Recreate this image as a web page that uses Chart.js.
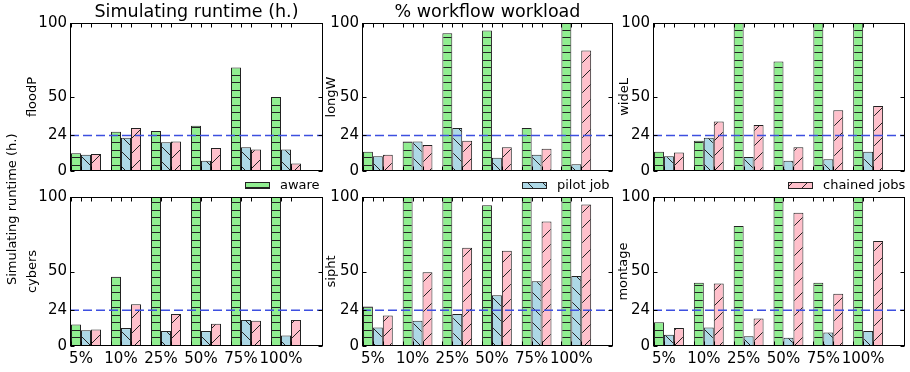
<!DOCTYPE html>
<html>
<head>
<meta charset="utf-8">
<script src="https://cdn.jsdelivr.net/npm/chart.js@4.4.1/dist/chart.umd.min.js"></script>
<style>
  html, body { margin: 0; padding: 0; background: #fff; }
  #wrap { position: relative; width: 910px; height: 372px; }
  #wrap canvas { position: absolute; left: 0; top: 0; }
</style>
</head>
<body>
<div id="wrap">
  <canvas id="floodP" width="910" height="372"></canvas>
  <canvas id="longW" width="910" height="372"></canvas>
  <canvas id="wideL" width="910" height="372"></canvas>
  <canvas id="cybers" width="910" height="372"></canvas>
  <canvas id="sipht" width="910" height="372"></canvas>
  <canvas id="montage" width="910" height="372"></canvas>
</div>
<script>
// categories / series / ticks
const workloads = ['5%', '10%', '25%', '50%', '75%', '100%'];
const seriesNames = ['aware', 'pilot job', 'chained jobs'];
const yTicks = [0, 24, 50, 100];
const deadline = 24;

// runtimes (h.); bars above 100 are cut by the axis
const floodPAware = [12, 26.5, 27, 30.5, 70, 50];
const floodPPilot = [11, 22.5, 19.5, 7, 16, 14.5];
const floodPChained = [11.5, 29, 20, 15.5, 14.5, 5];

const longWAware = [13, 20, 93, 95, 29, 125];
const longWPilot = [10, 20, 29, 9, 11, 4.5];
const longWChained = [11, 17.5, 20.5, 16, 15, 81.5];

const wideLAware = [13, 20.5, 125, 74, 125, 125];
const wideLPilot = [10, 22.5, 9.5, 7, 8, 13];
const wideLChained = [12.5, 33.5, 31, 16, 41, 44];

const cybersAware = [14.5, 46.5, 125, 125, 125, 125];
const cybersPilot = [10.5, 12, 10, 10, 17.5, 7];
const cybersChained = [11, 28, 21.5, 15, 17, 17.5];

const siphtAware = [26.5, 125, 125, 94.5, 125, 125];
const siphtPilot = [12.5, 17, 21.5, 34, 43.5, 47];
const siphtChained = [20.5, 49.5, 66, 64, 83.5, 95];

const montageAware = [16, 42.5, 80.5, 125, 42.5, 125];
const montagePilot = [7.5, 12.5, 6.5, 5.5, 9, 10];
const montageChained = [12, 42, 18.5, 89.5, 35, 70.5];

const FONT = '"DejaVu Sans", "Liberation Sans", sans-serif';
const edgeColor = '#222';

// hatch fills, like matplotlib '--', '\' and '/'
function hatch(color, kind) {
    const c = document.createElement('canvas');
    c.width = 15; c.height = 15;
    const g = c.getContext('2d');
    g.fillStyle = color;
    g.fillRect(0, 0, 15, 15);
    g.strokeStyle = edgeColor;
    g.fillStyle = edgeColor;
    g.lineWidth = 1;
    if (kind === '-') {
        g.fillRect(0, 0, 15, 1);
        g.fillRect(0, 7, 15, 1);
    } else {
        g.beginPath();
        if (kind === '/') {
            g.moveTo(-1, 16); g.lineTo(16, -1);
            g.moveTo(-2, 2); g.lineTo(2, -2);
            g.moveTo(13, 17); g.lineTo(17, 13);
        } else {
            g.moveTo(-1, -1); g.lineTo(16, 16);
            g.moveTo(-2, 13); g.lineTo(2, 17);
            g.moveTo(13, -2); g.lineTo(17, 2);
        }
        g.stroke();
    }
    return g.createPattern(c, 'repeat');
}
const fills = [
    hatch('#90ee90', '-'),
    hatch('#add8e6', '\\'),
    hatch('#ffc0cb', '/')
];

// frame, inner ticks, 24h line, titles, y labels and legend entries
const decor = {
    id: 'decor',
    afterDatasetsDraw(chart, args, o) {
        const {ctx, chartArea: a, scales: {x, y}} = chart;
        ctx.save();
        const L = Math.round(a.left) + 0.5, R = Math.round(a.right) - 0.5;
        const T = Math.round(a.top) + 0.5, B = Math.round(a.bottom) - 0.5;

        ctx.strokeStyle = '#3d4fe0';
        ctx.lineWidth = 1.3;
        ctx.setLineDash([9, 4]);
        const yd = y.getPixelForValue(deadline);
        ctx.beginPath(); ctx.moveTo(a.left, yd); ctx.lineTo(a.right, yd); ctx.stroke();
        ctx.setLineDash([]);

        ctx.strokeStyle = '#000';
        ctx.lineWidth = 1;
        ctx.strokeRect(L, T, R - L, B - T);
        ctx.beginPath();
        yTicks.forEach(v => {
            const py = Math.round(y.getPixelForValue(v)) + 0.5;
            ctx.moveTo(L, py); ctx.lineTo(L + 4, py);
            ctx.moveTo(R, py); ctx.lineTo(R - 4, py);
        });
        workloads.forEach((w, i) => {
            [-0.375, -0.125, 0.125].forEach(d => {
                const px = Math.round(x.getPixelForValue(i + d)) + 0.5;
                ctx.moveTo(px, T); ctx.lineTo(px, T + 4);
                ctx.moveTo(px, B); ctx.lineTo(px, B - 4);
            });
        });
        ctx.stroke();

        ctx.fillStyle = '#000';
        ctx.textBaseline = 'middle';
        ctx.textAlign = 'center';
        ctx.font = '13px ' + FONT;
        ctx.save();
        ctx.translate(o.ylabelX, (a.top + a.bottom) / 2);
        ctx.rotate(-Math.PI / 2);
        ctx.fillText(o.ylabel, 0, 0);
        ctx.restore();
        if (o.outerLabel) {
            ctx.save();
            ctx.translate(13, 285);
            ctx.rotate(-Math.PI / 2);
            ctx.textAlign = 'left';
            ctx.fillText(o.outerLabel, 0, 0);
            ctx.restore();
        }
        if (o.title) {
            ctx.font = '17.5px ' + FONT;
            ctx.textBaseline = 'alphabetic';
            ctx.fillText(o.title, (a.left + a.right) / 2, 17);
        }
        if (o.legend) {
            const k = o.legend.k;
            ctx.fillStyle = fills[k];
            ctx.fillRect(o.legend.x, 182, 25, 7);
            ctx.strokeStyle = edgeColor;
            ctx.strokeRect(o.legend.x + 0.5, 182.5, 24, 6);
            ctx.fillStyle = '#000';
            ctx.font = '13px ' + FONT;
            ctx.textAlign = 'left';
            ctx.textBaseline = 'middle';
            ctx.fillText(seriesNames[k], o.legend.x + 35, 186);
        }
        ctx.restore();
    }
};

const yAxisW = 45, xAxisH = 24;

function panel(id, values, box, decorOpts, showX) {
    const xh = showX ? xAxisH : 0;
    return new Chart(document.getElementById(id), {
        type: 'bar',
        data: {
            datasets: values.map((vals, k) => ({
                label: seriesNames[k],
                data: vals.map((v, i) => ({x: i, y: v})),
                backgroundColor: fills[k],
                borderColor: edgeColor,
                borderWidth: 1,
                clip: 0,
                categoryPercentage: 0.75,
                barPercentage: 1
            }))
        },
        options: {
            responsive: false,
            animation: false,
            events: [],
            layout: {padding: {left: box[0] - yAxisW, top: box[1], right: 910 - box[2], bottom: 372 - box[3] - xh}},
            plugins: {legend: {display: false}, tooltip: {enabled: false}, decor: decorOpts},
            scales: {
                x: {
                    type: 'linear',
                    offset: false,
                    bounds: 'data',
                    min: -0.4,
                    max: 5.925,
                    afterFit: s => { s.height = xh; },
                    afterBuildTicks: s => { s.ticks = workloads.map((w, i) => ({value: i - 0.125})); },
                    grid: {display: false, drawTicks: false, offset: false},
                    border: {display: false},
                    ticks: {
                        display: showX,
                        autoSkip: false,
                        maxRotation: 0,
                        padding: 4,
                        color: '#000',
                        font: {family: FONT, size: 15},
                        callback: (v, i) => workloads[i]
                    }
                },
                y: {
                    min: 0,
                    max: 100,
                    afterFit: s => { s.width = yAxisW; },
                    afterBuildTicks: s => { s.ticks = yTicks.map(v => ({value: v})); },
                    grid: {display: false, drawTicks: false},
                    border: {display: false},
                    ticks: {
                        padding: 3,
                        color: '#000',
                        font: {family: FONT, size: 15},
                        callback: v => String(v)
                    }
                }
            }
        },
        plugins: [decor]
    });
}

const top0 = 23, bot0 = 171, top1 = 197, bot1 = 346;
panel('floodP', [floodPAware, floodPPilot, floodPChained], [70, top0, 323, bot0],
    {ylabel: 'floodP', ylabelX: 33, title: 'Simulating runtime (h.)', legend: {k: 0, x: 245}}, false);
panel('longW', [longWAware, longWPilot, longWChained], [362, top0, 613, bot0],
    {ylabel: 'longW', ylabelX: 332, title: '% workflow workload', legend: {k: 1, x: 522}}, false);
panel('wideL', [wideLAware, wideLPilot, wideLChained], [653, top0, 905, bot0],
    {ylabel: 'wideL', ylabelX: 625, legend: {k: 2, x: 788}}, false);
panel('cybers', [cybersAware, cybersPilot, cybersChained], [70, top1, 323, bot1],
    {ylabel: 'cybers', ylabelX: 33, outerLabel: 'Simulating runtime (h.)'}, true);
panel('sipht', [siphtAware, siphtPilot, siphtChained], [362, top1, 613, bot1],
    {ylabel: 'sipht', ylabelX: 332}, true);
panel('montage', [montageAware, montagePilot, montageChained], [653, top1, 905, bot1],
    {ylabel: 'montage', ylabelX: 624}, true);
</script>
</body>
</html>
